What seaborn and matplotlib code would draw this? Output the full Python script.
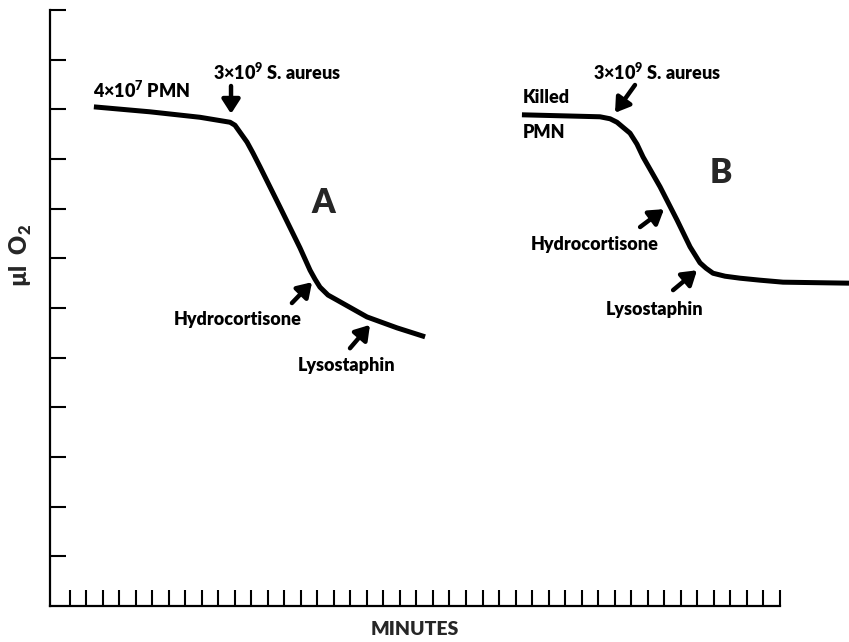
import pandas as pd
import matplotlib.pyplot as plt
import seaborn as sns

# === Data (x in minute ticks, y in ul O2 ticks) ===
a_minutes = [2.45, 5.85, 8.88, 10.70, 11.0, 11.30, 11.73, 12.09, 12.52, 13.73, 14.94,
             15.55, 15.85, 16.15, 16.64, 17.18, 19.0, 20.82, 22.52]
a_o2 = [10.05, 9.95, 9.84, 9.74, 9.68, 9.54, 9.34, 9.12, 8.84, 8.03, 7.21,
        6.76, 6.58, 6.42, 6.26, 6.16, 5.82, 5.60, 5.42]

b_minutes = [28.39, 33.12, 33.73, 34.15, 34.58, 34.94, 35.36, 35.73, 36.76, 37.79,
             38.58, 39.18, 39.55, 39.97, 40.70, 41.61, 42.82, 44.21, 48.21]
b_o2 = [9.89, 9.85, 9.81, 9.74, 9.62, 9.52, 9.30, 9.04, 8.44, 7.77,
        7.23, 6.91, 6.80, 6.70, 6.64, 6.60, 6.56, 6.52, 6.50]

minute_ticks = list(range(1, 45))
o2_ticks = list(range(1, 13))

df = pd.concat([
    pd.DataFrame({"minutes": a_minutes, "o2": a_o2, "run": "A"}),
    pd.DataFrame({"minutes": b_minutes, "o2": b_o2, "run": "B"}),
], ignore_index=True)

sns.set_style("white")
plt.rcParams["font.family"] = ["Lato", "DejaVu Sans"]

fig = plt.figure(figsize=(8.49, 6.42), dpi=100)
ax = fig.add_axes([50 / 849, 36 / 642, 799 / 849, 596 / 642])

sns.lineplot(data=df, x="minutes", y="o2", units="run", estimator=None,
             color="black", lw=3.6, ax=ax, solid_capstyle="butt", solid_joinstyle="round")

ax.set_xlim(-0.21, 48.21)
ax.set_ylim(0, 12)
ax.set_xticks(minute_ticks)
ax.set_yticks(o2_ticks)
ax.set_xticklabels([])
ax.set_yticklabels([])
ax.tick_params(axis="both", direction="in", length=11.5, width=1.5, color="black",
               bottom=True, left=True)
for side in ["top", "right"]:
    ax.spines[side].set_visible(False)
for side in ["left", "bottom"]:
    ax.spines[side].set_linewidth(1.6)
    ax.spines[side].set_color("black")
ax.spines["bottom"].set_bounds(-0.21, 44)

ax.set_xlabel("MINUTES", fontsize=14, fontweight="heavy")
ax.set_ylabel("µl  O$_{\\mathregular{2}}$", fontsize=17, fontweight="heavy")
ax.xaxis.set_label_coords(0.456, -0.026)
ax.yaxis.set_label_coords(-0.02, 0.589)

txt = dict(fontsize=13, fontweight="heavy", color="black")
arrow = dict(arrowstyle="-|>,head_length=0.7,head_width=0.45", lw=3.2,
             color="black", shrinkA=0, shrinkB=0, mutation_scale=12)

# --- curve A ---
ax.text(2.39, 10.39, "4×10$^{\\mathregular{7}}$ PMN", ha="left", va="center", **txt)
ax.text(9.67, 10.75, "3×10$^{\\mathregular{9}}$ S. aureus", ha="left", va="center", **txt)
ax.annotate("", xy=(10.76, 9.91), xytext=(10.76, 10.47), arrowprops=arrow)
ax.text(16.33, 8.11, "A", ha="center", va="center", fontsize=24, fontweight="heavy")
ax.text(11.18, 5.76, "Hydrocortisone", ha="center", va="center", **txt)
ax.annotate("", xy=(15.67, 6.52), xytext=(14.45, 6.10), arrowprops=arrow)
ax.text(17.79, 4.85, "Lysostaphin", ha="center", va="center", **txt)
ax.annotate("", xy=(19.18, 5.66), xytext=(17.97, 5.19), arrowprops=arrow)

# --- curve B ---
ax.text(32.70, 10.75, "3×10$^{\\mathregular{9}}$ S. aureus", ha="left", va="center", **txt)
ax.annotate("", xy=(34.03, 9.93), xytext=(35.24, 10.49), arrowprops=arrow)
ax.text(28.45, 10.23, "Killed", ha="left", va="center", **txt)
ax.text(28.45, 9.54, "PMN", ha="left", va="center", **txt)
ax.text(40.45, 8.72, "B", ha="center", va="center", fontsize=24, fontweight="heavy")
ax.text(32.82, 7.27, "Hydrocortisone", ha="center", va="center", **txt)
ax.annotate("", xy=(37.0, 7.99), xytext=(35.55, 7.63), arrowprops=arrow)
ax.text(36.45, 5.96, "Lysostaphin", ha="center", va="center", **txt)
ax.annotate("", xy=(39.0, 6.76), xytext=(37.55, 6.36), arrowprops=arrow)

fig.savefig("out.png", dpi=100)
plt.close(fig)
